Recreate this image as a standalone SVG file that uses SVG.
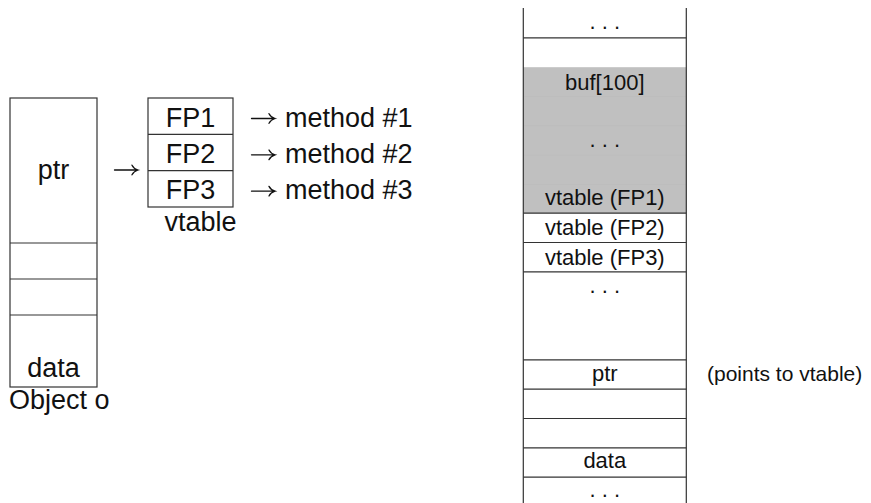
<svg xmlns="http://www.w3.org/2000/svg" width="871" height="503" viewBox="0 0 871 503">
  <style>
    .cell { fill: none; stroke: #333; stroke-width: 1.2; }
    .rule { stroke: #333; stroke-width: 1.2; }
    .shade { fill: #c0c0c0; stroke: none; }
    .faint { stroke: #bdbdbd; stroke-width: 1; }
    .arrow { fill: none; stroke: #111; stroke-width: 1.3; stroke-linecap: round; }
    .big { font-family: "Liberation Sans", Arial, sans-serif; font-size: 27px; fill: #111; }
    .small { font-family: "Liberation Sans", Arial, sans-serif; font-size: 22px; fill: #111; }
    .mid { text-anchor: middle; }
  </style>
  <defs>
    <!-- thin right arrow with curved barbs, tip at the origin -->
    <path id="rarrow" class="arrow" d="M-23.5 0 H0 M-6 -4.8 Q-4.2 -1.2 0 0 Q-4.2 1.2 -6 4.8"/>
  </defs>

  <rect width="871" height="503" fill="#fff"/>

  <!-- Object o: memory layout of the object -->
  <g id="object-o">
    <rect class="cell" x="10" y="98" width="87" height="289"/>
    <line class="rule" x1="10" y1="243" x2="97" y2="243"/>
    <line class="rule" x1="10" y1="279" x2="97" y2="279"/>
    <line class="rule" x1="10" y1="315" x2="97" y2="315"/>
    <text class="big mid" x="53.5" y="179">ptr</text>
    <text class="big mid" x="53.5" y="376.5">data</text>
    <text class="big" x="9" y="409">Object o</text>
  </g>

  <!-- vtable with three function pointers -->
  <g id="vtable">
    <rect class="cell" x="148" y="98" width="85" height="109"/>
    <line class="rule" x1="148" y1="134.3" x2="233" y2="134.3"/>
    <line class="rule" x1="148" y1="170.7" x2="233" y2="170.7"/>
    <text class="big mid" x="190.5" y="126.5">FP1</text>
    <text class="big mid" x="190.5" y="162.8">FP2</text>
    <text class="big mid" x="190.5" y="199.2">FP3</text>
    <text class="big" x="164.5" y="231">vtable</text>
  </g>

  <!-- pointer arrows: ptr to vtable, each slot to its method -->
  <g id="connectors">
    <use href="#rarrow" x="138" y="170"/>
    <use href="#rarrow" x="275" y="118.5"/>
    <use href="#rarrow" x="275" y="154.8"/>
    <use href="#rarrow" x="275" y="191.2"/>
  </g>
  <g id="methods">
    <text class="big" x="285" y="126.5">method #1</text>
    <text class="big" x="285" y="162.8">method #2</text>
    <text class="big" x="285" y="199.2">method #3</text>
  </g>

  <!-- Stack: buffer overflowing into the object -->
  <g id="stack">
    <rect class="shade" x="523.3" y="67.2" width="163" height="146"/>
    <line class="faint" x1="524" y1="96.5" x2="686" y2="96.5"/>
    <line class="faint" x1="524" y1="125.8" x2="686" y2="125.8"/>
    <line class="faint" x1="524" y1="155.2" x2="686" y2="155.2"/>
    <line class="faint" x1="524" y1="184.5" x2="686" y2="184.5"/>
    <line class="rule" x1="523.3" y1="8" x2="523.3" y2="503"/>
    <line class="rule" x1="686.3" y1="8" x2="686.3" y2="503"/>
    <line class="rule" x1="523.3" y1="37.8" x2="686.3" y2="37.8"/>
    <line class="rule" x1="523.3" y1="213.2" x2="686.3" y2="213.2"/>
    <line class="rule" x1="523.3" y1="242.5" x2="686.3" y2="242.5"/>
    <line class="rule" x1="523.3" y1="271.8" x2="686.3" y2="271.8"/>
    <line class="rule" x1="523.3" y1="359.8" x2="686.3" y2="359.8"/>
    <line class="rule" x1="523.3" y1="389.2" x2="686.3" y2="389.2"/>
    <line class="rule" x1="523.3" y1="418.5" x2="686.3" y2="418.5"/>
    <line class="rule" x1="523.3" y1="447.8" x2="686.3" y2="447.8"/>
    <line class="rule" x1="523.3" y1="477.2" x2="686.3" y2="477.2"/>
    <text class="small mid" x="604.8" y="29">. . .</text>
    <text class="small mid" x="604.8" y="89.7">buf[100]</text>
    <text class="small mid" x="604.8" y="147">. . .</text>
    <text class="small mid" x="604.8" y="205">vtable (FP1)</text>
    <text class="small mid" x="604.8" y="235.3">vtable (FP2)</text>
    <text class="small mid" x="604.8" y="264.7">vtable (FP3)</text>
    <text class="small mid" x="604.8" y="292.5">. . .</text>
    <text class="small mid" x="604.8" y="381">ptr</text>
    <text class="small mid" x="604.8" y="468">data</text>
    <text class="small mid" x="604.8" y="497">. . .</text>
  </g>

  <g id="note">
    <text class="small" x="707" y="381" style="font-size:21px">(points to vtable)</text>
  </g>
</svg>
